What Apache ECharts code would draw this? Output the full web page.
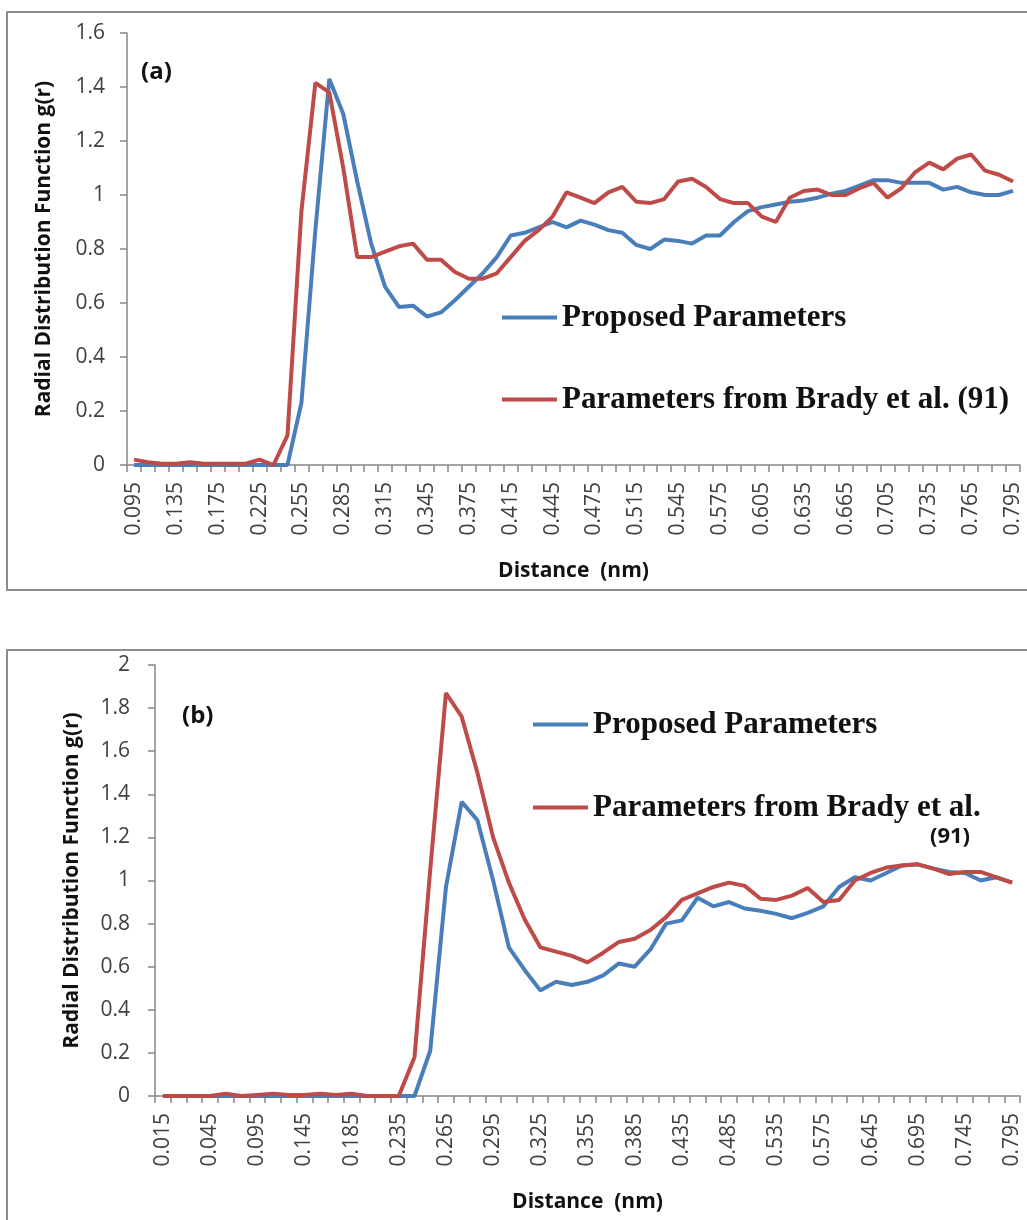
<!DOCTYPE html>
<html>
<head>
<meta charset="utf-8">
<script src="https://cdn.jsdelivr.net/npm/echarts@6/dist/echarts.min.js"></script>
<style>
html,body{margin:0;padding:0;background:#fff;}
#chart{width:1027px;height:1220px;}
</style>
</head>
<body>
<div id="chart"></div>
<script>
// ---- Data (a) ----
var catsA = ['0.095','0.105','0.115','0.135','0.145','0.155','0.175','0.185','0.205','0.225','0.235','0.245',
 '0.255','0.265','0.275','0.285','0.295','0.305','0.315','0.325','0.335','0.345','0.355','0.365',
 '0.375','0.385','0.395','0.415','0.425','0.435','0.445','0.455','0.465','0.475','0.485','0.495',
 '0.515','0.525','0.535','0.545','0.555','0.565','0.575','0.585','0.595','0.605','0.615','0.625',
 '0.635','0.645','0.655','0.665','0.675','0.685','0.705','0.715','0.725','0.735','0.745','0.755',
 '0.765','0.775','0.785','0.795'];
var proposedA = [0,0,0,0,0,0,0,0,0,0,0,0,
 0.23,0.87,1.43,1.30,1.05,0.82,0.66,0.585,0.59,0.55,0.565,0.61,
 0.66,0.71,0.77,0.85,0.86,0.88,0.90,0.88,0.905,0.89,0.87,0.86,
 0.815,0.80,0.835,0.83,0.82,0.85,0.85,0.90,0.94,0.955,0.965,0.975,
 0.98,0.99,1.005,1.015,1.035,1.055,1.055,1.045,1.045,1.045,1.02,1.03,
 1.01,1.0,1.0,1.015];
var bradyA = [0.02,0.01,0.005,0.005,0.01,0.005,0.005,0.005,0.005,0.02,0.0,0.11,
 0.94,1.415,1.38,1.1,0.77,0.77,0.79,0.81,0.82,0.76,0.76,0.715,
 0.69,0.69,0.71,0.77,0.83,0.87,0.92,1.01,0.99,0.97,1.01,1.03,
 0.975,0.97,0.985,1.05,1.06,1.03,0.985,0.97,0.97,0.92,0.90,0.99,
 1.015,1.02,1.0,1.0,1.025,1.045,0.99,1.025,1.085,1.12,1.095,1.135,
 1.15,1.09,1.075,1.05];

// ---- Data (b) ----
var catsB = ['0.015','0.025','0.035','0.045','0.055','0.075','0.095','0.105','0.125','0.145','0.155','0.165',
 '0.185','0.205','0.215','0.235','0.245','0.255','0.265','0.275','0.285','0.295','0.305','0.315',
 '0.325','0.335','0.345','0.355','0.365','0.375','0.385','0.405','0.415','0.435','0.445','0.465',
 '0.485','0.495','0.515','0.535','0.545','0.555','0.575','0.605','0.625','0.645','0.665','0.675',
 '0.695','0.715','0.725','0.745','0.765','0.775','0.795'];
var proposedB = [0,0,0,0,0,0,0,0,0,0,0,0,0,0,0,0,0,
 0.21,0.97,1.365,1.28,1.0,0.69,0.585,0.49,0.53,0.515,0.53,0.56,0.615,0.60,0.68,0.80,
 0.815,0.92,0.88,0.90,0.87,0.86,0.845,0.825,0.85,0.88,0.97,1.015,1.00,1.035,1.07,1.075,
 1.055,1.04,1.035,1.00,1.015,0.99];
var bradyB = [0,0,0,0,0.01,0,0.005,0.01,0.005,0.005,0.01,0.005,0.01,0,0,0,
 0.18,1.05,1.87,1.76,1.5,1.2,0.99,0.82,0.69,0.67,0.65,0.62,0.665,0.715,0.73,0.77,0.83,
 0.91,0.94,0.97,0.99,0.975,0.915,0.91,0.93,0.965,0.90,0.91,1.00,1.035,1.06,1.07,1.075,
 1.055,1.03,1.04,1.04,1.015,0.99];

var nameP = 'Proposed Parameters';
var nameB = 'Parameters from Brady et al. (91)';

var BLUE = '#4A7EBB', RED = '#BE4B48', AXIS = '#868686', LBL = '#404040';
var SANS = '"Open Sans", "Noto Sans", sans-serif';
var SERIF = '"Liberation Serif", "DejaVu Serif", serif';

function xAxis(idx, cats) {
  return {
    type: 'category', gridIndex: idx, data: cats, boundaryGap: true,
    name: 'Distance  (nm)', nameLocation: 'middle', nameGap: 96,
    nameTextStyle: {fontFamily: SANS, fontWeight: 'bold', fontSize: 21, color: '#111'},
    axisLine: {show: true, lineStyle: {color: AXIS, width: 1.5}},
    axisTick: {show: true, interval: 0, length: 7, alignWithLabel: false, lineStyle: {color: AXIS, width: 1.5}},
    axisLabel: {interval: 2, rotate: 90, margin: 17, fontFamily: SANS, fontSize: 21, color: LBL},
    splitLine: {show: false}
  };
}
function yAxis(idx, max, nameGap, margin) {
  return {
    type: 'value', gridIndex: idx, min: 0, max: max, interval: 0.2,
    name: 'Radial Distribution Function g(r)', nameLocation: 'middle', nameGap: nameGap, nameRotate: 90,
    nameTextStyle: {fontFamily: SANS, fontWeight: 'bold', fontSize: 21, color: '#111'},
    axisLine: {show: true, lineStyle: {color: AXIS, width: 1.5}},
    axisTick: {show: true, length: 7, lineStyle: {color: AXIS, width: 1.5}},
    axisLabel: {margin: margin, fontFamily: SANS, fontSize: 21, color: LBL},
    splitLine: {show: false}
  };
}
function legend(name, left, top, fmt) {
  var l = {
    data: [name], left: left, top: top, padding: 0, orient: 'vertical',
    icon: 'rect', itemWidth: 55, itemHeight: 4, selectedMode: false,
    textStyle: {fontFamily: SERIF, fontWeight: 'bold', fontSize: 31, color: '#111', lineHeight: 31}
  };
  if (fmt) l.formatter = fmt;
  return l;
}

var chart = echarts.init(document.getElementById('chart'), null, {renderer: 'canvas'});
chart.setOption({
  backgroundColor: '#fff',
  animation: false,
  grid: [
    {left: 127, top: 33, width: 893, height: 432, outerBoundsMode: 'none', containLabel: false},
    {left: 155, top: 665, width: 865, height: 431, outerBoundsMode: 'none', containLabel: false}
  ],
  xAxis: [xAxis(0, catsA), xAxis(1, catsB)],
  yAxis: [yAxis(0, 1.6, 72, 22), yAxis(1, 2, 72, 25)],
  legend: [
    legend(nameP, 502, 302),
    legend(nameB, 502, 384),
    legend(nameP, 533, 709),
    legend(nameB, 533, 792, function () { return 'Parameters from Brady et al.'; })
  ],
  series: [
    {name: nameP, type: 'line', xAxisIndex: 0, yAxisIndex: 0, data: proposedA, symbol: 'none', lineStyle: {color: BLUE, width: 4}, itemStyle: {color: BLUE}},
    {name: nameB, type: 'line', xAxisIndex: 0, yAxisIndex: 0, data: bradyA, symbol: 'none', lineStyle: {color: RED, width: 4}, itemStyle: {color: RED}},
    {name: nameP, type: 'line', xAxisIndex: 1, yAxisIndex: 1, data: proposedB, symbol: 'none', lineStyle: {color: BLUE, width: 4}, itemStyle: {color: BLUE}},
    {name: nameB, type: 'line', xAxisIndex: 1, yAxisIndex: 1, data: bradyB, symbol: 'none', lineStyle: {color: RED, width: 4}, itemStyle: {color: RED}}
  ],
  graphic: [
    {type: 'rect', shape: {x: 7, y: 12, width: 1040, height: 578}, style: {fill: 'none', stroke: '#8c8c8c', lineWidth: 2}, silent: true},
    {type: 'rect', shape: {x: 7, y: 650, width: 1040, height: 620}, style: {fill: 'none', stroke: '#8c8c8c', lineWidth: 2}, silent: true},
    {type: 'text', left: 141, top: 60, style: {text: '(a)', fontFamily: SANS, fontWeight: 'bold', fontSize: 24, fill: '#111'}},
    {type: 'text', left: 182, top: 704, style: {text: '(b)', fontFamily: SANS, fontWeight: 'bold', fontSize: 24, fill: '#111'}},
    {type: 'text', left: 930, top: 826, style: {text: '(91)', fontFamily: SANS, fontWeight: 'bold', fontSize: 22, fill: '#111'}}
  ]
});
</script>
</body>
</html>
